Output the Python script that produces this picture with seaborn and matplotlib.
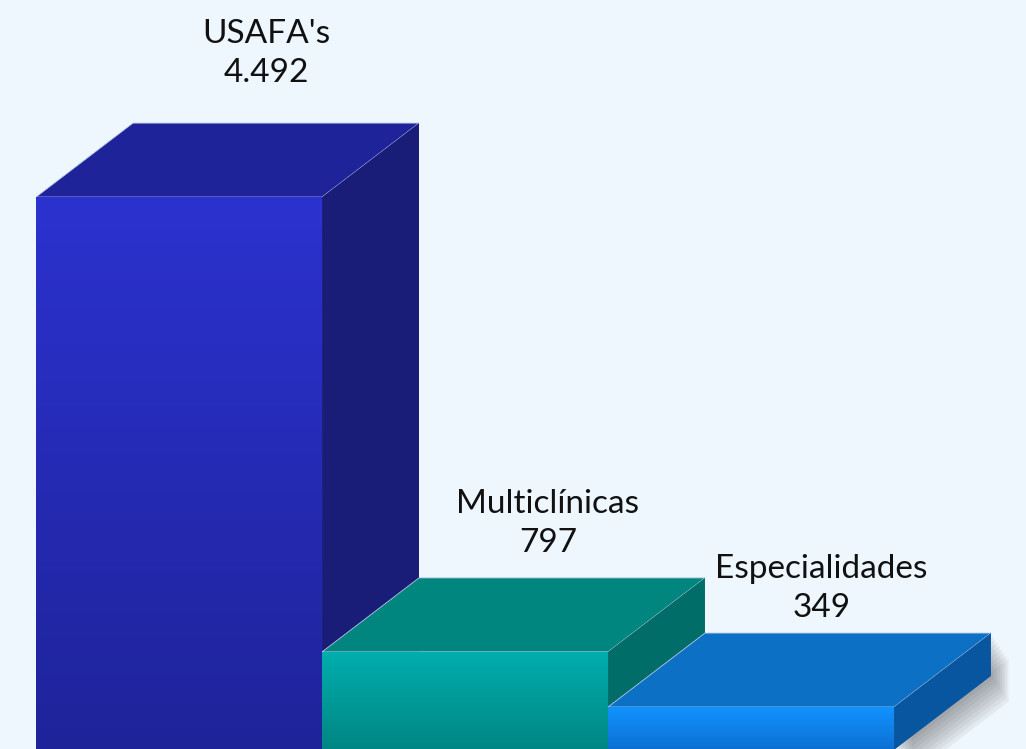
import numpy as np
import matplotlib
matplotlib.use("Agg")
import matplotlib.pyplot as plt
import matplotlib.colors as mcolors
from matplotlib.patches import Polygon
import seaborn as sns

# datos del grafico
categorias = ["USAFA's", "Multiclínicas", "Especialidades"]
valores = [4492, 797, 349]
etiquetas_valor = ["4.492", "797", "349"]

# colores (frente arriba, frente abajo, tapa, lateral)
col_frente_arriba = ["#2B32CF", "#00AEAE", "#1193FF"]
col_frente_abajo = ["#1F239A", "#008683", "#0C6FD2"]
col_tapa = ["#1F2399", "#00857F", "#0C70C5"]
col_lado = ["#1A1D78", "#006D69", "#0956A0"]
fondo = "#EEF7FD"

# desplazamiento de las etiquetas (puntos)
desp_etiqueta = [(3, 25), (0, 14), (-9, 7)]

sns.set_theme(style="white")
plt.rcParams["font.family"] = ["Lato", "DejaVu Sans"]

fig = plt.figure(figsize=(10.26, 7.49), dpi=100)
fig.patch.set_facecolor(fondo)
ax = fig.add_axes([0, 0, 1, 1])
ax.set_facecolor(fondo)

sns.barplot(x=categorias, y=valores, hue=categorias, palette=col_frente_arriba,
            width=1.0, legend=False, ax=ax, saturation=1)

ax.set_xlim(-0.626, 2.9615)
ax.set_ylim(8, 6093)
ax.axis("off")

# profundidad del efecto 3D (en unidades de datos)
dx = 0.339
dy = 601
px_x = 1 / 286   # un pixel en x (datos)
px_y = 8.12      # un pixel en y (datos)

n = len(ax.patches)
for i, p in enumerate(ax.patches):
    x0 = p.get_x()
    w = p.get_width()
    h = p.get_height()
    x1 = x0 + w
    z = 10 * i

    # sombra suave del lateral (solo visible en la ultima barra)
    if i == n - 1:
        for k in range(1, 9):
            ox, oy = px_x * 2.2 * k, -px_y * 3.2 * k
            sombra = Polygon([(x1 + ox, oy), (x1 + dx + ox, dy + oy),
                              (x1 + dx + ox, h + dy + oy), (x1 + ox, h + oy)], closed=True,
                             facecolor="#4A4A4A", alpha=0.07, edgecolor="none", zorder=z)
            ax.add_patch(sombra)

    tapa = Polygon([(x0, h), (x1, h), (x1 + dx, h + dy), (x0 + dx, h + dy)], closed=True,
                   facecolor=col_tapa[i], edgecolor="#B8C8E8", linewidth=0.6, zorder=z + 1)
    ax.add_patch(tapa)
    lado = Polygon([(x1, 0), (x1 + dx, dy), (x1 + dx, h + dy), (x1, h)], closed=True,
                   facecolor=col_lado[i], edgecolor="none", zorder=z + 2)
    ax.add_patch(lado)

    # frente con degradado vertical
    p.set_zorder(z + 3)
    p.set_edgecolor("none")
    cmap = mcolors.LinearSegmentedColormap.from_list("g%d" % i, [col_frente_abajo[i], col_frente_arriba[i]])
    grad = np.linspace(0, 1, 256).reshape(-1, 1)
    im = ax.imshow(grad, cmap=cmap, origin="lower", aspect="auto",
                   extent=(x0, x1, 0, h), zorder=z + 4, interpolation="bilinear")
    im.set_clip_path(p)

    # etiqueta
    ax.annotate(categorias[i] + "\n" + etiquetas_valor[i],
                xy=(x0 + w / 2 + 0.29, h + dy), xytext=desp_etiqueta[i],
                textcoords="offset points", ha="center", va="bottom",
                fontsize=24, color="#111111", linespacing=1.38, zorder=50)

ax.set_xlim(-0.626, 2.9615)
ax.set_ylim(8, 6093)

fig.savefig("out.png", dpi=100, facecolor=fondo)
